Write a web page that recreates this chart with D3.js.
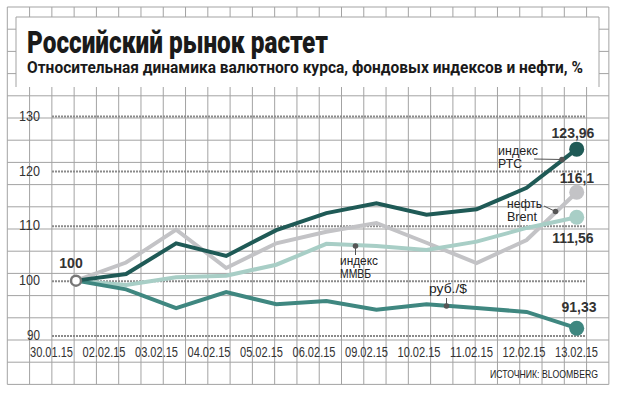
<!DOCTYPE html>
<html>
<head>
<meta charset="utf-8">
<script src="https://cdn.jsdelivr.net/npm/d3@7"></script>
<style>
  body { margin: 0; background: #fff; }
  svg { display: block; }
  .narrow { font-family: "Liberation Sans Narrow", "Liberation Sans", Arial, sans-serif; }
  .val { font-family: "Liberation Sans", Arial, sans-serif; font-weight: bold; font-size: 14px; fill: #333; }
</style>
</head>
<body>
<div id="chart-container"></div>
<script>
const dates = ['30.01.15','02.02.15','03.02.15','04.02.15','05.02.15','06.02.15','09.02.15','10.02.15','11.02.15','12.02.15','13.02.15'];
const rtsValues   = [100, 101.2, 106.8, 104.5, 109.2, 112.3, 114.1, 112.0, 113.0, 116.9, 123.96];
const brentValues = [100, 103.3, 109.3, 102.3, 106.8, 108.9, 110.5, 106.9, 103.2, 107.4, 116.1];
const micexValues = [100, 99.2, 100.6, 100.9, 102.9, 106.7, 106.3, 105.6, 107.1, 109.6, 111.56];
const rubValues   = [100, 98.4, 95.0, 97.9, 95.7, 96.3, 94.7, 95.7, 95.0, 94.3, 91.33];
const yTicks = [90, 100, 110, 120, 130];

const svgCanvas = {width: 620, height: 394};
const grid = {x0: 7.3, y0: 7, sx: 22.28, sy: 22.2, cols: 27, rows: 17};
const box = {x1: 16, y1: 17, x2: 599, y2: 87};

const svg = d3.select('#chart-container')
    .append('svg')
    .attr('width', svgCanvas.width)
    .attr('height', svgCanvas.height);

// background grid
const gridG = svg.append('g').attr('stroke', '#a3a3a3').attr('stroke-width', 1);
const gx2 = grid.x0 + grid.cols * grid.sx;
const gy2 = grid.y0 + grid.rows * grid.sy;
gridG.selectAll('line.v')
    .data(d3.range(grid.cols + 1))
    .enter().append('line')
    .attr('x1', i => grid.x0 + i * grid.sx).attr('x2', i => grid.x0 + i * grid.sx)
    .attr('y1', grid.y0).attr('y2', gy2);
gridG.selectAll('line.h')
    .data(d3.range(grid.rows + 1))
    .enter().append('line')
    .attr('y1', i => grid.y0 + i * grid.sy).attr('y2', i => grid.y0 + i * grid.sy)
    .attr('x1', grid.x0).attr('x2', gx2);

// title box
svg.append('rect')
    .attr('x', box.x1).attr('y', box.y1)
    .attr('width', box.x2 - box.x1).attr('height', box.y2 - box.y1)
    .attr('fill', '#fff');
svg.append('path')
    .attr('d', `M${box.x1},${box.y2}V${box.y1}H${box.x2}V${box.y2}`)
    .attr('fill', 'none').attr('stroke', '#a3a3a3');

svg.append('text')
    .text('Российский рынок растет')
    .attr('x', 27).attr('y', 53)
    .attr('font-family', 'Roboto, "Liberation Sans", sans-serif')
    .attr('font-weight', 900).attr('font-size', 32)
    .attr('textLength', 301).attr('lengthAdjust', 'spacingAndGlyphs')
    .attr('fill', '#1a1a1a');
svg.append('text')
    .text('Относительная динамика валютного курса, фондовых индексов и нефти, %')
    .attr('x', 27).attr('y', 73)
    .attr('font-family', 'Roboto, "Liberation Sans", sans-serif')
    .attr('font-weight', 700).attr('font-size', 16.5)
    .attr('textLength', 556).attr('lengthAdjust', 'spacingAndGlyphs')
    .attr('fill', '#1a1a1a');

// scales
const yScale = d3.scaleLinear().domain([90, 130]).range([335.5, 116]);
const xScale = d3.scalePoint().domain(dates).range([76, 576.7]);
const xLabelScale = d3.scalePoint().domain(dates).range([51, 576]);

// y axis with dotted gridlines
const yAxis = svg.append('g')
    .attr('transform', 'translate(52,0)')
    .call(d3.axisLeft(yScale).tickValues(yTicks).tickSize(-(586 - 52)).tickPadding(12).tickFormat(d3.format('d')));
yAxis.select('.domain').remove();
yAxis.selectAll('.tick line')
    .attr('stroke', '#8a8a8a').attr('stroke-width', 2).attr('stroke-dasharray', '2,1');
yAxis.selectAll('.tick text')
    .attr('class', 'narrow').attr('font-size', 14).attr('fill', '#333').attr('dy', '0.3em')
    .attr('textLength', d => d >= 100 ? 21 : 13).attr('lengthAdjust', 'spacingAndGlyphs');

// x axis labels
const xAxis = svg.append('g')
    .attr('transform', 'translate(0,346)')
    .call(d3.axisBottom(xLabelScale).tickSize(0).tickPadding(0));
xAxis.select('.domain').remove();
xAxis.selectAll('.tick text')
    .attr('class', 'narrow').attr('font-size', 14).attr('fill', '#333').attr('dy', '0.75em')
    .attr('textLength', 43).attr('lengthAdjust', 'spacingAndGlyphs');

// lines
const series = [
  {name: 'brent', values: brentValues, color: '#c3c3c6'},
  {name: 'micex', values: micexValues, color: '#a8cec6'},
  {name: 'rub', values: rubValues, color: '#3f8780'},
  {name: 'rts', values: rtsValues, color: '#1f5a56'}
];
const line = d3.line()
    .x((d, i) => xScale(dates[i]))
    .y(d => yScale(d));

svg.append('g').selectAll('path')
    .data(series)
    .enter().append('path')
    .attr('d', d => line(d.values))
    .attr('fill', 'none')
    .attr('stroke', d => d.color)
    .attr('stroke-width', 4)
    .attr('stroke-linejoin', 'miter');

// end markers
svg.append('g').selectAll('circle')
    .data(series)
    .enter().append('circle')
    .attr('cx', xScale(dates[dates.length - 1]))
    .attr('cy', d => yScale(d.values[d.values.length - 1]))
    .attr('r', 7.5)
    .attr('fill', d => d.color);

// start marker
svg.append('circle')
    .attr('cx', xScale(dates[0])).attr('cy', yScale(100))
    .attr('r', 5).attr('fill', '#fff')
    .attr('stroke', '#777').attr('stroke-width', 2.5);

// value labels
const fmt = v => String(v).replace('.', ',');
const valLabels = [
  {text: '100', x: xScale(dates[0]) - 5, y: 268},
  {text: fmt(rtsValues[10]), x: 573, y: 138},
  {text: fmt(brentValues[10]), x: 577, y: 183},
  {text: fmt(micexValues[10]), x: 573, y: 243},
  {text: fmt(rubValues[10]), x: 579, y: 312}
];
svg.append('g').selectAll('text')
    .data(valLabels)
    .enter().append('text')
    .attr('class', 'val')
    .attr('x', d => d.x).attr('y', d => d.y)
    .attr('text-anchor', 'middle')
    .text(d => d.text);

// series annotations
const notes = [
  {lines: [['индекс', 40], ['РТС', 24]], x: 498, y: 155, seg: [[534, 159], [562, 159.5]]},
  {lines: [['нефть', 35], ['Brent', 30]], x: 507, y: 208, seg: [[544, 206], [555.5, 211.5]]},
  {lines: [['индекс', 38], ['ММВБ', 31]], x: 340, y: 265, seg: [[355.5, 255], [355.5, 246]]},
  {lines: [['руб./$', 38]], x: 429, y: 293, seg: [[446.5, 298], [446.5, 306]]}
];
const noteG = svg.append('g').attr('class', 'narrow');
notes.forEach(n => {
  n.lines.forEach((s, i) => {
    noteG.append('text')
        .attr('x', n.x).attr('y', n.y + i * 13)
        .attr('font-size', 12.5).attr('fill', '#222')
        .attr('textLength', s[1]).attr('lengthAdjust', 'spacingAndGlyphs')
        .text(s[0]);
  });
  noteG.append('line')
      .attr('x1', n.seg[0][0]).attr('y1', n.seg[0][1])
      .attr('x2', n.seg[1][0]).attr('y2', n.seg[1][1])
      .attr('stroke', '#555').attr('stroke-width', 1);
  noteG.append('circle')
      .attr('cx', n.seg[1][0]).attr('cy', n.seg[1][1])
      .attr('r', 2.8).attr('fill', '#555');
});

// source
svg.append('text')
    .attr('class', 'narrow')
    .attr('x', 598).attr('y', 377.5)
    .attr('text-anchor', 'end')
    .attr('font-size', 10.5).attr('fill', '#222')
    .attr('textLength', 108).attr('lengthAdjust', 'spacingAndGlyphs')
    .text('ИСТОЧНИК: BLOOMBERG');
</script>
</body>
</html>
